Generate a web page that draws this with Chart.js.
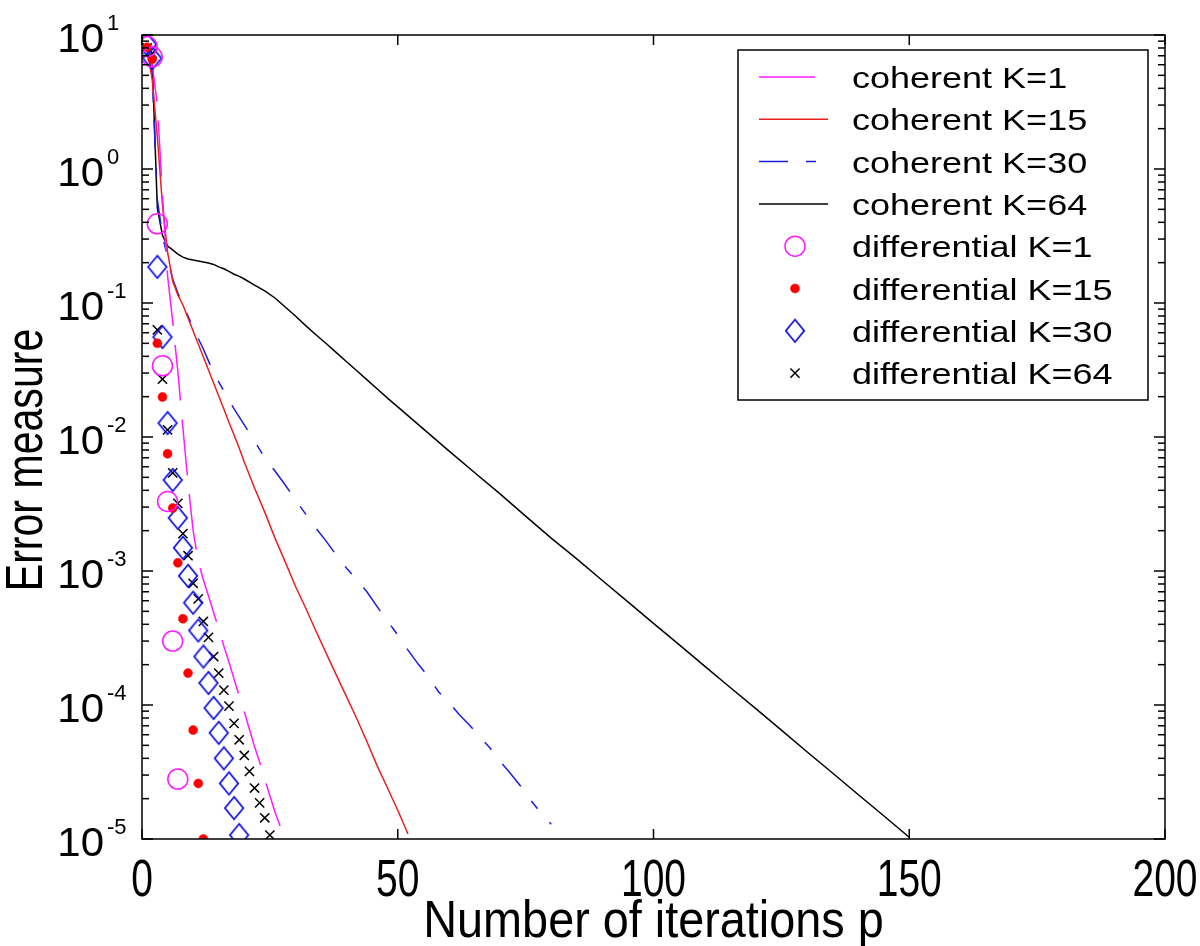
<!DOCTYPE html>
<html>
<head>
<meta charset="utf-8">
<script src="https://cdn.jsdelivr.net/npm/chart.js@4.4.0/dist/chart.umd.min.js"></script>
<style>
  html, body { margin: 0; padding: 0; background: #fff; }
</style>
</head>
<body>
<canvas id="myChart" width="1200" height="946"></canvas>
<script>
// iteration numbers and error values
const cohK1P = [1,2,3,4,5,6,7,8,9,10,11,12,13,14,15,16,17,18,19,20,21,22,23,24,25,26,27];
const cohK1 = [8.2,6.0,3.0,0.64,0.16,0.073,0.031,0.0117,0.0045,0.0020,0.00117,8.6e-4,6.5e-4,4.9e-4,3.7e-4,2.75e-4,2.09e-4,1.56e-4,1.17e-4,8.9e-5,6.6e-5,4.9e-5,3.76e-5,2.8e-5,2.1e-5,1.59e-5,1.25e-5];

const cohK15P = [1,2,3,4,5,6,7,8,9,10,11,12,13,14,15,16,17,18,19,20,22,24,26,28,30,32,34,36,38,40,42,44,46,48,50,52];
const cohK15 = [8.1,4.6,1.73,0.54,0.24,0.146,0.115,0.0966,0.0773,0.0618,0.0494,0.0395,0.0316,0.0253,0.0202,0.0162,0.0129,0.01035,0.00828,0.0065,0.00416,0.00275,0.00176,0.00117,7.7e-4,5.3e-4,3.57e-4,2.44e-4,1.67e-4,1.15e-4,7.9e-5,5.3e-5,3.5e-5,2.4e-5,1.64e-5,1.09e-5];

const cohK30P = [1,2,3,4,5,6,7,8,9,10,12,14,16,18,20,22,24,26,28,30,32,34,36,38,40,42,44,46,48,50,52,54,56,58,60,62,64,66,68,70,72,74,76,78,80];
const cohK30 = [8.3,5.0,0.59,0.32,0.217,0.151,0.119,0.098,0.080,0.065,0.0454,0.0301,0.0220,0.0162,0.0123,0.00933,0.00697,0.00557,0.00438,0.00339,0.00266,0.00209,0.00167,0.00131,0.00105,8.6e-4,6.97e-4,5.4e-4,4.23e-4,3.33e-4,2.57e-4,2.02e-4,1.62e-4,1.25e-4,1.05e-4,8.5e-5,7.1e-5,5.8e-5,4.8e-5,3.8e-5,3.1e-5,2.49e-5,1.95e-5,1.56e-5,1.29e-5];

const cohK64P = [1,2,3,4,5,6,7,8,9,10,11,12,13,14,15,16,17,18,19,20,22,24,26,28,30,32,34,36,38,40,42,44,46,48,50,55,60,65,70,75,80,85,90,95,100,105,110,115,120,125,130,135,140,145,150];
const cohK64 = [8.3,6.3,0.51,0.32,0.266,0.249,0.232,0.22,0.213,0.209,0.206,0.202,0.199,0.194,0.186,0.18,0.172,0.164,0.158,0.151,0.136,0.123,0.109,0.0933,0.080,0.0678,0.058,0.0499,0.0426,0.0364,0.0312,0.0267,0.0228,0.0195,0.0168,0.0115,0.00787,0.00543,0.00376,0.00257,0.00176,0.00123,8.5e-4,5.89e-4,4.07e-4,2.82e-4,1.95e-4,1.35e-4,9.4e-5,6.5e-5,4.48e-5,3.11e-5,2.15e-5,1.49e-5,1.03e-5];

const diffK1P = [1,2,3,4,5,6,7];
const diffK1 = [8.2,6.85,0.39,0.034,0.0033,3.0e-4,2.8e-5];

const diffK15P = [1,2,3,4,5,6,7,8,9,10,11,12];
const diffK15 = [8.1,6.6,0.050,0.0199,0.0075,0.00295,0.00115,4.4e-4,1.73e-4,6.5e-5,2.6e-5,1.0e-5];

const diffK30P = [1,2,3,4,5,6,7,8,9,10,11,12,13,14,15,16,17,18,19];
const diffK30 = [8.5,6.7,0.186,0.0557,0.0127,0.00478,0.00249,0.00149,9.2e-4,5.8e-4,3.6e-4,2.3e-4,1.46e-4,9.5e-5,6.2e-5,4.0e-5,2.6e-5,1.7e-5,1.07e-5];

const diffK64P = [1,2,3,4,5,6,7,8,9,10,11,12,13,14,15,16,17,18,19,20,21,22,23,24,25];
const diffK64 = [8.0,7.3,0.063,0.027,0.0113,0.0054,0.0032,0.0019,0.0013,8.1e-4,6.2e-4,4.2e-4,3.2e-4,2.3e-4,1.73e-4,1.29e-4,9.8e-5,7.3e-5,5.5e-5,4.2e-5,3.2e-5,2.4e-5,1.86e-5,1.44e-5,1.07e-5];

const xTicks = [0, 50, 100, 150, 200];
const yExps = [-5, -4, -3, -2, -1, 0, 1];
const seriesNames = ['coherent K=1','coherent K=15','coherent K=30','coherent K=64',
  'differential K=1','differential K=15','differential K=30','differential K=64'];

const pts = (ps, vs) => ps.map((p, i) => ({x: p, y: vs[i]}));

function diamond(w, h, color, lw) {
  const c = document.createElement('canvas');
  c.width = w + 2 * lw; c.height = h + 2 * lw;
  const g = c.getContext('2d');
  g.strokeStyle = color; g.lineWidth = lw;
  g.beginPath();
  g.moveTo(c.width / 2, lw);
  g.lineTo(c.width - lw, c.height / 2);
  g.lineTo(c.width / 2, c.height - lw);
  g.lineTo(lw, c.height / 2);
  g.closePath();
  g.stroke();
  return c;
}
const diamondImg = diamond(19, 23, '#1010e8', 1.8);

const FONT = '"Liberation Sans", Arial, Helvetica, sans-serif';

function txt(ctx, s, x, y, size, sx, align) {
  ctx.save();
  ctx.translate(x, y);
  ctx.scale(sx, 1);
  ctx.font = size + 'px ' + FONT;
  ctx.textAlign = align;
  ctx.textBaseline = 'alphabetic';
  ctx.fillText(s, 0, 0);
  ctx.restore();
}

const matlabAxes = {
  id: 'matlabAxes',
  afterDatasetsDraw(chart) {
    const {ctx, chartArea: a, scales: {x, y}} = chart;
    ctx.save();
    ctx.strokeStyle = '#000';
    ctx.fillStyle = '#000';
    ctx.lineWidth = 1.5;
    const seg = (x1, y1, x2, y2) => { ctx.beginPath(); ctx.moveTo(x1, y1); ctx.lineTo(x2, y2); ctx.stroke(); };

    // x ticks + labels
    xTicks.forEach(v => {
      const px = x.getPixelForValue(v);
      seg(px, a.bottom, px, a.bottom - 10);
      seg(px, a.top, px, a.top + 10);
      txt(ctx, String(v), px, 896, 52, 0.75, 'center');
    });

    // y ticks (major + minor) + labels
    yExps.forEach(e => {
      for (let m = 1; m <= 9; m++) {
        const v = m * Math.pow(10, e);
        if (v > 10.0001) break;
        const py = y.getPixelForValue(v);
        const len = m === 1 ? 11 : 7;
        seg(a.left, py, a.left + len, py);
        seg(a.right, py, a.right - len, py);
      }
      const py = y.getPixelForValue(Math.pow(10, e));
      txt(ctx, '10', 104, py + 17, 40, 1.05, 'right');
      txt(ctx, String(e), 107, py - 5, 22, 1.0, 'left');
    });

    // axis titles
    txt(ctx, 'Number of iterations p', (a.left + a.right) / 2, 937, 52, 0.9, 'center');
    ctx.save();
    ctx.translate(42, 460);
    ctx.rotate(-Math.PI / 2);
    txt(ctx, 'Error measure', 0, 0, 52, 0.79, 'center');
    ctx.restore();

    // frame
    ctx.strokeRect(a.left, a.top, a.right - a.left, a.bottom - a.top);

    // legend box
    const L = 738, T = 50, R = 1148, B = 400;
    ctx.fillStyle = '#fff';
    ctx.fillRect(L, T, R - L, B - T);
    ctx.strokeRect(L, T, R - L, B - T);
    chart.data.datasets.forEach((ds, i) => {
      const ry = 77 + i * 42.3;
      if (ds.showLine !== false) {
        ctx.save();
        ctx.strokeStyle = ds.borderColor;
        ctx.lineWidth = ds.borderWidth;
        ctx.setLineDash(ds.borderDash || []);
        seg(759, ry, 828, ry);
        ctx.restore();
      } else {
        ctx.save();
        ctx.strokeStyle = ds.borderColor;
        ctx.fillStyle = ds.backgroundColor;
        ctx.lineWidth = ds.pointBorderWidth;
        Chart.helpers.drawPoint(ctx, {
          pointStyle: ds.pointStyle, radius: ds.pointRadius,
          borderWidth: ds.pointBorderWidth, rotation: 0
        }, 795, ry);
        ctx.restore();
      }
      ctx.fillStyle = '#000';
      txt(ctx, seriesNames[i], 852, ry + 11, 30, 1.2, 'left');
    });
    ctx.restore();
  }
};

const lineDs = (label, data, color, dash) => ({
  label, data, type: 'line', showLine: true,
  borderColor: color, backgroundColor: color, borderWidth: 1.5,
  borderDash: dash, pointRadius: 0, tension: 0, order: 2
});
const markDs = (label, data, style, r, color, fill, bw) => ({
  label, data, type: 'line', showLine: false,
  pointStyle: style, pointRadius: r, pointBorderWidth: bw,
  borderColor: color, backgroundColor: fill, pointBackgroundColor: fill,
  pointBorderColor: color, order: 1
});

new Chart(document.getElementById('myChart'), {
  type: 'line',
  data: {
    datasets: [
      lineDs(seriesNames[0], pts(cohK1P, cohK1), '#ff1aff', [56, 19]),
      lineDs(seriesNames[1], pts(cohK15P, cohK15), '#e82020', []),
      lineDs(seriesNames[2], pts(cohK30P, cohK30), '#1c1ce0', [29, 18, 10, 18]),
      lineDs(seriesNames[3], pts(cohK64P, cohK64), '#000000', []),
      markDs(seriesNames[4], pts(diffK1P, diffK1), 'circle', 10, '#ff1aff', 'rgba(0,0,0,0)', 1.5),
      markDs(seriesNames[5], pts(diffK15P, diffK15), 'circle', 4.5, '#ff0000', '#ff0000', 0.5),
      markDs(seriesNames[6], pts(diffK30P, diffK30), diamondImg, 11, '#1010e8', 'rgba(0,0,0,0)', 1.8),
      markDs(seriesNames[7], pts(diffK64P, diffK64), 'crossRot', 6.5, '#000000', '#000000', 1.5)
    ]
  },
  options: {
    responsive: false,
    animation: false,
    devicePixelRatio: 1,
    layout: { padding: { top: 35, right: 35, left: 0, bottom: 0 } },
    plugins: { legend: { display: false }, tooltip: { enabled: false } },
    scales: {
      x: {
        type: 'linear', min: 0, max: 200,
        ticks: { display: false }, grid: { display: false }, border: { display: false },
        afterFit: s => { s.height = 107; }
      },
      y: {
        type: 'logarithmic', min: 1e-5, max: 10,
        ticks: { display: false }, grid: { display: false }, border: { display: false },
        afterFit: s => { s.width = 142; }
      }
    }
  },
  plugins: [matlabAxes]
});
</script>
</body>
</html>
